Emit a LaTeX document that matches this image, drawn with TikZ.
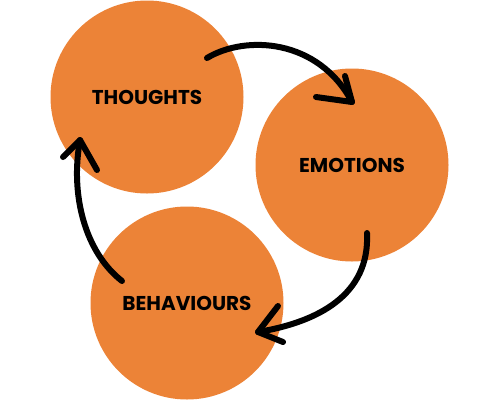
\documentclass[tikz,border=0pt]{standalone}
\usepackage{fontspec}
\setmainfont{Poppins}
\begin{document}
\begin{tikzpicture}[x=1pt,y=-1pt,
  bubble/.style={circle, fill=bubbleorange, minimum size=193pt, inner sep=0pt,
    font=\fontsize{20}{23}\selectfont\bfseries, text=black},
  cycarrow/.style={line width=6pt, line cap=round, line join=round, draw=black}]
\definecolor{bubbleorange}{HTML}{EC8337}
\useasboundingbox (0,0) rectangle (500,400);
\node[bubble] (th) at (147,97) {THOUGHTS};
\node[bubble] (em) at (352,165) {EMOTIONS};
\node[bubble] (be) at (187,303) {BEHAVIOURS};
% arrow 1
\coordinate (a1s) at (207,58);
\coordinate (a1t) at (352,102);
\draw[cycarrow] (a1s) .. controls (245,35) and (318,38) .. (a1t);
\draw[cycarrow] (316,97) -- (a1t) -- (345,76);
% arrow 2
\coordinate (a2s) at (367,233);
\coordinate (a2t) at (258,332);
\draw[cycarrow] (a2s) .. controls (370,295) and (318,322) .. (a2t);
\draw[cycarrow] (278,306) -- (a2t) -- (283,342);
% arrow 3
\coordinate (a3s) at (122,281);
\coordinate (a3t) at (80,140);
\draw[cycarrow] (a3s) .. controls (85,252) and (70,195) .. (a3t);
\draw[cycarrow] (63,157) -- (a3t) -- (97,170);
\end{tikzpicture}
\end{document}
